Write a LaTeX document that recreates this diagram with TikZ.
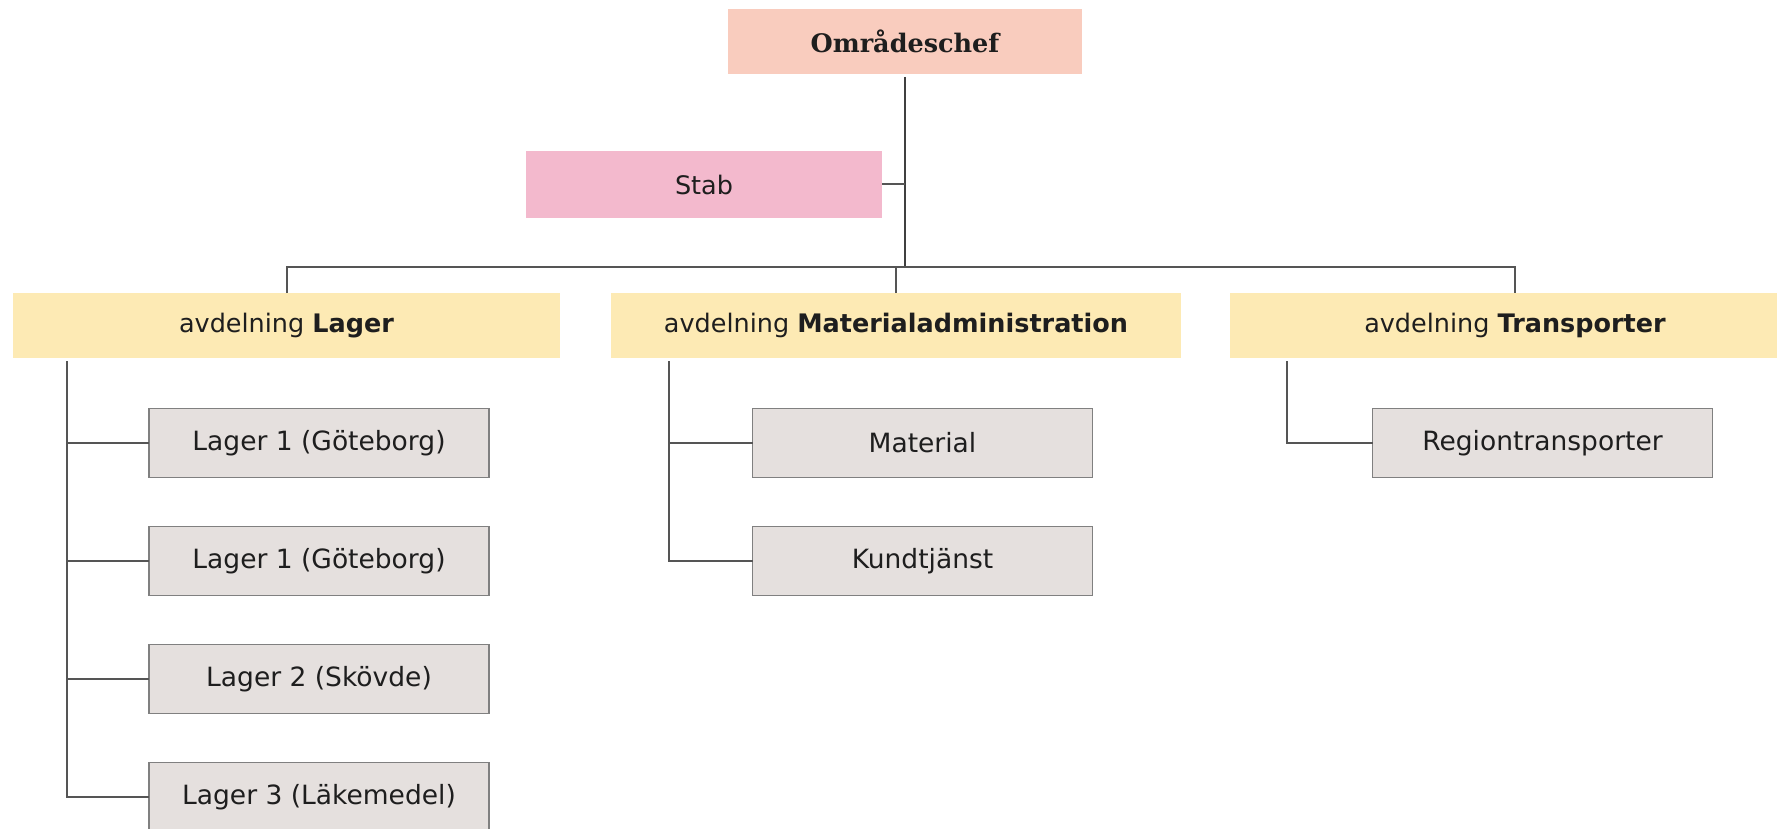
\documentclass[tikz,border=0pt]{standalone}
\usepackage{fontspec}
\setmainfont{DejaVu Sans}
\newfontfamily\chefFont{DejaVu Serif}
\usetikzlibrary{positioning}

\definecolor{chefFill}{RGB}{249,204,190}
\definecolor{stabFill}{RGB}{243,185,205}
\definecolor{deptFill}{RGB}{253,234,180}
\definecolor{subFill}{RGB}{229,224,222}
\definecolor{subLine}{RGB}{128,128,128}
\definecolor{linkLine}{RGB}{85,85,85}
\definecolor{txt}{RGB}{30,30,30}

\tikzset{
  box/.style={rectangle, inner sep=0pt, outer sep=0pt, text=txt,
    font=\fontsize{25.5}{30}\selectfont},
  chefbox/.style={box, fill=chefFill, minimum width=354pt, minimum height=65pt,
    font=\fontsize{25.5}{30}\selectfont\chefFont\bfseries},
  stabbox/.style={box, fill=stabFill, minimum width=356pt, minimum height=67pt},
  deptbox/.style={box, fill=deptFill, minimum width=570pt, minimum height=65pt},
  subbox/.style={box, fill=subFill, draw=subLine, line width=1.5pt,
    minimum width=340pt, minimum height=69pt, font=\fontsize{26.5}{30}\selectfont},
  link/.style={draw=linkLine, line width=2pt},
}

\begin{document}
\begin{tikzpicture}[x=1pt,y=1pt,node distance=118pt,on grid]
  \clip (0,0) rectangle (1777,-829);
  \fill[white] (0,0) rectangle (1777,-829);

  \node[chefbox] (chef) at (905,-41.5) {Områdeschef};
  \node[stabbox] (stab) [below left=143pt and 201pt of chef] {Stab};

  \node[deptbox, minimum width=547pt] (lager) at (286.5,-325.5) {avdelning \textbf{Lager}};
  \node[deptbox] (mat) [right=609.5pt of lager] {avdelning \textbf{Materialadministration}};
  \node[deptbox] (trans) [right=619pt of mat] {avdelning \textbf{Transporter}};

  \node[subbox] (l1) [below right=117.5pt and 32.5pt of lager] {Lager 1 (Göteborg)};
  \node[subbox] (l1b) [below=of l1] {Lager 1 (Göteborg)};
  \node[subbox] (l2) [below=of l1b] {Lager 2 (Skövde)};
  \node[subbox] (l3) [below=of l2] {Lager 3 (Läkemedel)};

  \node[subbox] (mat1) [below right=117.5pt and 26.5pt of mat] {Material};
  \node[subbox] (mat2) [below=of mat1] {Kundtjänst};

  \node[subbox] (reg) [below right=117.5pt and 27.5pt of trans] {Regiontransporter};

  % top part of the tree
  \coordinate (bar) at (0,-267);
  \draw[link, draw=black!75, line width=2.5pt] ([yshift=-3pt]chef.south) -- (chef.south |- bar);
  \draw[link] (stab.east) -- (stab.east -| chef.south);
  \draw[link] (lager.north) -- (lager.north |- bar) -- (trans.north |- bar) -- (trans.north);
  \draw[link] (mat.north) -- (mat.north |- bar);

  % departments to their units
  \coordinate (lagerSpine) at ([xshift=-82pt]l1.west |- lager.south);
  \draw[link] ([yshift=-3pt]lagerSpine) |- (l3.west);
  \foreach \n in {l1,l1b,l2}
    \draw[link] (lagerSpine |- \n.west) -- (\n.west);

  \coordinate (matSpine) at ([xshift=-84pt]mat1.west |- mat.south);
  \draw[link] ([yshift=-3pt]matSpine) |- (mat2.west);
  \draw[link] (matSpine |- mat1.west) -- (mat1.west);

  \coordinate (transSpine) at ([xshift=-86pt]reg.west |- trans.south);
  \draw[link] ([yshift=-3pt]transSpine) |- (reg.west);
\end{tikzpicture}
\end{document}
